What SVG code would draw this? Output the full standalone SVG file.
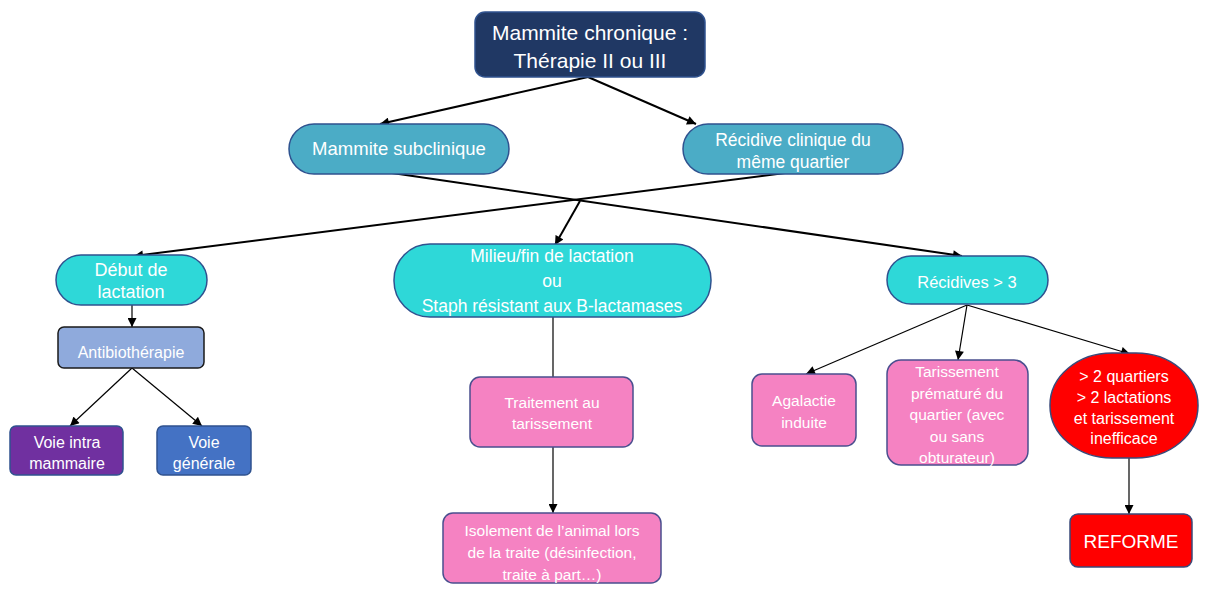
<svg xmlns="http://www.w3.org/2000/svg" width="1206" height="594" viewBox="0 0 1206 594">
  <style>
    text { font-family: "Liberation Sans", Arial, sans-serif; fill: #ffffff; text-anchor: middle; }
    .edge { fill: none; stroke: #000000; }
    .thick { stroke-width: 2; }
    .thin { stroke-width: 1.2; }
    .navy { fill: #203864; stroke: #2f528f; stroke-width: 1.5; }
    .teal { fill: #4bacc6; stroke: #2f528f; stroke-width: 1.5; }
    .cyan { fill: #2ed8d8; stroke: #2f528f; stroke-width: 1.5; }
    .lilac { fill: #8faadc; stroke: #1a1a1a; stroke-width: 1.5; }
    .purple { fill: #7030a0; stroke: #2f528f; stroke-width: 1.5; }
    .blue { fill: #4472c4; stroke: #2f528f; stroke-width: 1.5; }
    .pink { fill: #f582c2; stroke: #4a4f8f; stroke-width: 1.5; }
    .red { fill: #ff0000; stroke: #3a4a7a; stroke-width: 1.5; }
  </style>
  <defs>
    <marker id="arrow" viewBox="0 0 10 10" refX="10" refY="5" markerWidth="10" markerHeight="9" markerUnits="userSpaceOnUse" orient="auto">
      <path d="M0,0 L10,5 L0,10 Z" fill="#000000"/>
    </marker>
  </defs>

  <rect width="1206" height="594" fill="#ffffff"/>

  <!-- connectors -->
  <g id="connectors">
    <line class="edge thick" x1="588" y1="77" x2="380" y2="124" marker-end="url(#arrow)"/>
    <line class="edge thick" x1="588" y1="77" x2="696" y2="124" marker-end="url(#arrow)"/>
    <line class="edge thick" x1="392" y1="173" x2="962" y2="256" marker-end="url(#arrow)"/>
    <line class="edge thick" x1="785" y1="173" x2="134" y2="256" marker-end="url(#arrow)"/>
    <line class="edge thick" x1="580" y1="201" x2="555" y2="245" marker-end="url(#arrow)"/>
    <line class="edge thin" x1="132" y1="305" x2="132" y2="327" marker-end="url(#arrow)"/>
    <line class="edge thin" x1="132" y1="368" x2="70" y2="426" marker-end="url(#arrow)"/>
    <line class="edge thin" x1="132" y1="368" x2="202" y2="426" marker-end="url(#arrow)"/>
    <line class="edge thin" x1="553" y1="317" x2="553" y2="377"/>
    <line class="edge thin" x1="553" y1="447" x2="553" y2="513" marker-end="url(#arrow)"/>
    <line class="edge thin" x1="967" y1="305" x2="806" y2="374" marker-end="url(#arrow)"/>
    <line class="edge thin" x1="967" y1="305" x2="958" y2="360" marker-end="url(#arrow)"/>
    <line class="edge thin" x1="967" y1="305" x2="1130" y2="354" marker-end="url(#arrow)"/>
    <line class="edge thin" x1="1129" y1="458" x2="1129" y2="514" marker-end="url(#arrow)"/>
  </g>

  <g id="chronique">
    <rect class="navy" x="475" y="12" width="230" height="65" rx="10"/>
    <text x="590" y="40" font-size="21">Mammite chronique :</text>
    <text x="590" y="68" font-size="21">Thérapie II ou III</text>
  </g>

  <g id="subclinique">
    <rect class="teal" x="289" y="124" width="220" height="50" rx="25"/>
    <text x="399" y="155" font-size="18.5">Mammite subclinique</text>
  </g>

  <g id="recidive-clinique">
    <rect class="teal" x="683" y="124" width="220" height="50" rx="25"/>
    <text x="793" y="146" font-size="17.5">Récidive clinique du</text>
    <text x="793" y="168" font-size="17.5">même quartier</text>
  </g>

  <g id="debut-lactation">
    <rect class="cyan" x="56" y="255" width="151" height="50" rx="25"/>
    <text x="131" y="276" font-size="18">Début de</text>
    <text x="131" y="298" font-size="18">lactation</text>
  </g>

  <g id="antibiotherapie">
    <rect class="lilac" x="58" y="327" width="146" height="41" rx="6"/>
    <text x="131" y="358" font-size="16">Antibiothérapie</text>
  </g>

  <g id="voie-intra">
    <rect class="purple" x="10" y="426" width="113" height="49" rx="6"/>
    <text x="67" y="448" font-size="16">Voie intra</text>
    <text x="67" y="469" font-size="16">mammaire</text>
  </g>

  <g id="voie-generale">
    <rect class="blue" x="157" y="426" width="94" height="49" rx="6"/>
    <text x="204" y="448" font-size="16">Voie</text>
    <text x="204" y="469" font-size="16">générale</text>
  </g>

  <g id="milieu-fin">
    <rect class="cyan" x="394" y="244" width="317" height="73" rx="36"/>
    <text x="552" y="262" font-size="17.5">Milieu/fin de lactation</text>
    <text x="552" y="287" font-size="17.5">ou</text>
    <text x="552" y="312" font-size="17.5">Staph résistant aux B-lactamases</text>
  </g>

  <g id="traitement-tarissement">
    <rect class="pink" x="470" y="377" width="163" height="70" rx="10"/>
    <text x="552" y="408" font-size="15.5">Traitement au</text>
    <text x="552" y="429" font-size="15.5">tarissement</text>
  </g>

  <g id="isolement">
    <rect class="pink" x="443" y="513" width="218" height="70" rx="10"/>
    <text x="552" y="536" font-size="15.5">Isolement de l’animal lors</text>
    <text x="552" y="558" font-size="15.5">de la traite (désinfection,</text>
    <text x="552" y="580" font-size="15.5">traite à part…)</text>
  </g>

  <g id="recidives-3">
    <rect class="cyan" x="887" y="256" width="161" height="48" rx="24"/>
    <text x="967" y="288" font-size="16.5">Récidives &gt; 3</text>
  </g>

  <g id="agalactie">
    <rect class="pink" x="752" y="374" width="104" height="72" rx="10"/>
    <text x="804" y="406" font-size="15.5">Agalactie</text>
    <text x="804" y="428" font-size="15.5">induite</text>
  </g>

  <g id="tarissement-premature">
    <rect class="pink" x="887" y="360" width="141" height="105" rx="14"/>
    <text x="957" y="377" font-size="15.5">Tarissement</text>
    <text x="957" y="399" font-size="15.5">prématuré du</text>
    <text x="957" y="420" font-size="15.5">quartier (avec</text>
    <text x="957" y="442" font-size="15.5">ou sans</text>
    <text x="957" y="463" font-size="15.5">obturateur)</text>
  </g>

  <g id="criteres-reforme">
    <rect class="red" x="1050" y="353" width="148" height="105" rx="62" ry="52"/>
    <text x="1124" y="382" font-size="16">&gt; 2 quartiers</text>
    <text x="1124" y="403" font-size="16">&gt; 2 lactations</text>
    <text x="1124" y="424" font-size="16">et tarissement</text>
    <text x="1124" y="444" font-size="16">inefficace</text>
  </g>

  <g id="reforme">
    <rect class="red" x="1070" y="514" width="122" height="53" rx="8"/>
    <text x="1131" y="548" font-size="19">REFORME</text>
  </g>
</svg>
